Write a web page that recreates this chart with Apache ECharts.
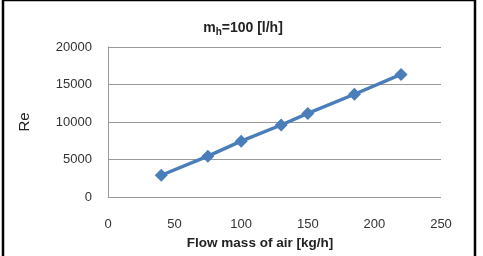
<!DOCTYPE html>
<html><head><meta charset="utf-8">
<script src="https://cdn.jsdelivr.net/npm/echarts@6/dist/echarts.min.js"></script>
<style>html,body{margin:0;padding:0;background:#fff}#c{width:483px;height:256px}</style>
</head><body><div id="c"></div>
<script>
const flowMass = [40, 75, 100, 130, 150, 185, 220];
const reynolds = [2900, 5450, 7450, 9600, 11150, 13700, 16350];
const xTicks = [0, 50, 100, 150, 200, 250];
const yTicks = [0, 5000, 10000, 15000, 20000];

const chart = echarts.init(document.getElementById('c'), null, {renderer: 'canvas'});
const font = '"Liberation Sans", Arial, sans-serif';
chart.setOption({
  animation: false,
  backgroundColor: '#fff',
  graphic: [{
    type: 'rect', shape: {x: 3, y: 0, width: 472, height: 262},
    style: {fill: 'none', stroke: '#000', lineWidth: 2.5}, silent: true
  }],
  title: {
    text: '{m|m}{s|h}{m|=100 [l/h]}',
    left: 238, top: 15, textAlign: 'center',
    textStyle: {
      rich: {
        m: {fontFamily: font, fontWeight: 'bold', fontSize: 14, color: '#222'},
        s: {fontFamily: font, fontWeight: 'bold', fontSize: 10, color: '#222', verticalAlign: 'bottom', padding: [7, 0, 0, 0]}
      }
    }
  },
  grid: {left: 108, right: 42, top: 47, bottom: 59},
  xAxis: {
    type: 'value', min: xTicks[0], max: xTicks[xTicks.length - 1], interval: 50,
    name: 'Flow mass of air [kg/h]', nameLocation: 'middle', nameGap: 34,
    nameTextStyle: {fontFamily: font, fontWeight: 'bold', fontSize: 13.5, color: '#222', padding: [0, 29, 0, 0]},
    axisLine: {show: false}, axisTick: {show: false},
    splitLine: {show: false},
    axisLabel: {fontFamily: font, fontSize: 13, color: '#333', margin: 21}
  },
  yAxis: {
    type: 'value', min: yTicks[0], max: yTicks[yTicks.length - 1], interval: 5000,
    name: 'Re', nameLocation: 'middle', nameGap: 76, nameRotate: 90,
    nameTextStyle: {fontFamily: font, fontSize: 15, color: '#222'},
    axisLine: {show: true, lineStyle: {color: '#999', width: 1}},
    axisTick: {show: false},
    splitLine: {show: true, lineStyle: {color: '#999', width: 1}},
    axisLabel: {fontFamily: font, fontSize: 13, color: '#333', margin: 16, formatter: v => String(v)}
  },
  series: [{
    type: 'line',
    data: flowMass.map((x, i) => [x, reynolds[i]]),
    symbol: 'diamond', symbolSize: 13,
    lineStyle: {color: '#4a7ebb', width: 3.5},
    itemStyle: {color: '#4a7ebb'}
  }]
});
</script></body></html>
